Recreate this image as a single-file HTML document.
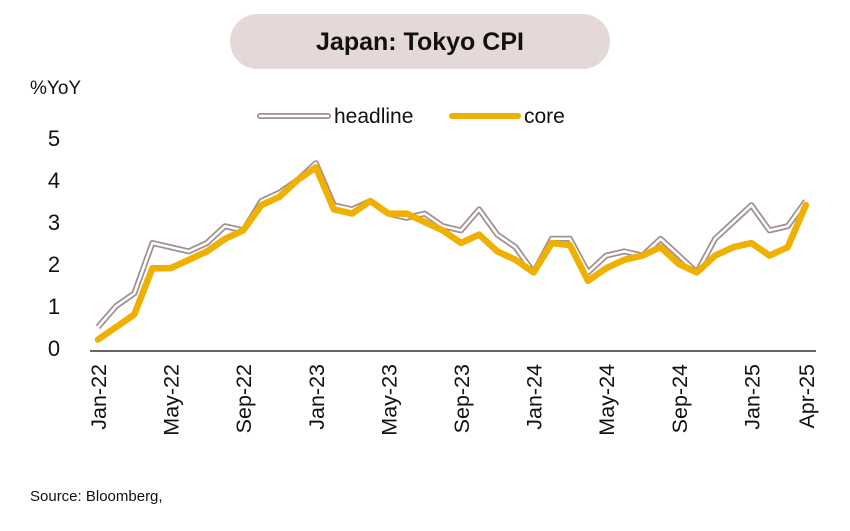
<!DOCTYPE html>
<html><head><meta charset="utf-8"><style>
body{margin:0;background:#fff;}
svg{display:block;font-family:"Liberation Sans",sans-serif;}
</style></head><body>
<svg id="s" width="850" height="531" viewBox="0 0 850 531" xmlns="http://www.w3.org/2000/svg">
<rect x="230" y="14" width="380" height="55" rx="27.5" fill="#e5d8d8"/>
<text x="420" y="50" text-anchor="middle" font-size="25" font-weight="bold" fill="#111">Japan: Tokyo CPI</text>
<text x="30" y="94" font-size="19" fill="#111">%YoY</text>
<line x1="260" y1="116" x2="328" y2="116" stroke="#a09090" stroke-width="6" stroke-linecap="round"/>
<line x1="260" y1="116" x2="328" y2="116" stroke="#fff" stroke-width="2.5" stroke-linecap="round"/>
<text x="334" y="123" font-size="21" fill="#111">headline</text>
<line x1="452" y1="116" x2="518" y2="116" stroke="#f0b000" stroke-width="6" stroke-linecap="round"/>
<text x="524" y="123" font-size="21" fill="#111">core</text>
<g font-size="22" fill="#111" text-anchor="middle">
<text x="54" y="356">0</text><text x="54" y="314">1</text><text x="54" y="272">2</text>
<text x="54" y="230">3</text><text x="54" y="188">4</text><text x="54" y="146">5</text>
</g>
<line x1="90" y1="351" x2="816" y2="351" stroke="#333" stroke-width="1.5"/>
<polyline id="h1" fill="none" stroke="#a09090" stroke-width="6" stroke-linejoin="round"/>
<polyline id="h2" fill="none" stroke="#fff" stroke-width="2.5" stroke-linejoin="round"/>
<polyline id="c" fill="none" stroke="#f0b000" stroke-width="6.5" stroke-linejoin="round" stroke-linecap="round"/>
<g id="xl" font-size="21.5" fill="#111"></g>
<text x="30" y="501" font-size="15" fill="#111">Source: Bloomberg,</text>
</svg>
<script>
var h=[0.5,1.0,1.3,2.5,2.4,2.3,2.5,2.9,2.8,3.5,3.7,4.0,4.4,3.4,3.3,3.5,3.2,3.1,3.2,2.9,2.8,3.3,2.7,2.4,1.8,2.6,2.6,1.8,2.2,2.3,2.2,2.6,2.2,1.8,2.6,3.0,3.4,2.8,2.9,3.5];
var c=[0.2,0.5,0.8,1.9,1.9,2.1,2.3,2.6,2.8,3.4,3.6,4.0,4.3,3.3,3.2,3.5,3.2,3.2,3.0,2.8,2.5,2.7,2.3,2.1,1.8,2.5,2.45,1.6,1.9,2.1,2.2,2.4,2.0,1.8,2.2,2.4,2.5,2.2,2.4,3.4];
function X(i){return 98+i*18.15}function Y(v){return 348-v*42}
function pts(a){return a.map(function(v,i){return X(i).toFixed(1)+","+Y(v).toFixed(1)}).join(" ")}
document.getElementById("h1").setAttribute("points",pts(h));
document.getElementById("h2").setAttribute("points",pts(h));
document.getElementById("c").setAttribute("points",pts(c));
var labs=[[0,"Jan-22"],[4,"May-22"],[8,"Sep-22"],[12,"Jan-23"],[16,"May-23"],[20,"Sep-23"],[24,"Jan-24"],[28,"May-24"],[32,"Sep-24"],[36,"Jan-25"],[39,"Apr-25"]];
var g=document.getElementById("xl"),ns="http://www.w3.org/2000/svg";
labs.forEach(function(l){var t=document.createElementNS(ns,"text");var x=X(l[0])+8,y=364;
t.setAttribute("transform","translate("+x+","+y+") rotate(-90)");t.setAttribute("text-anchor","end");t.textContent=l[1];g.appendChild(t);});
</script>
</body></html>
